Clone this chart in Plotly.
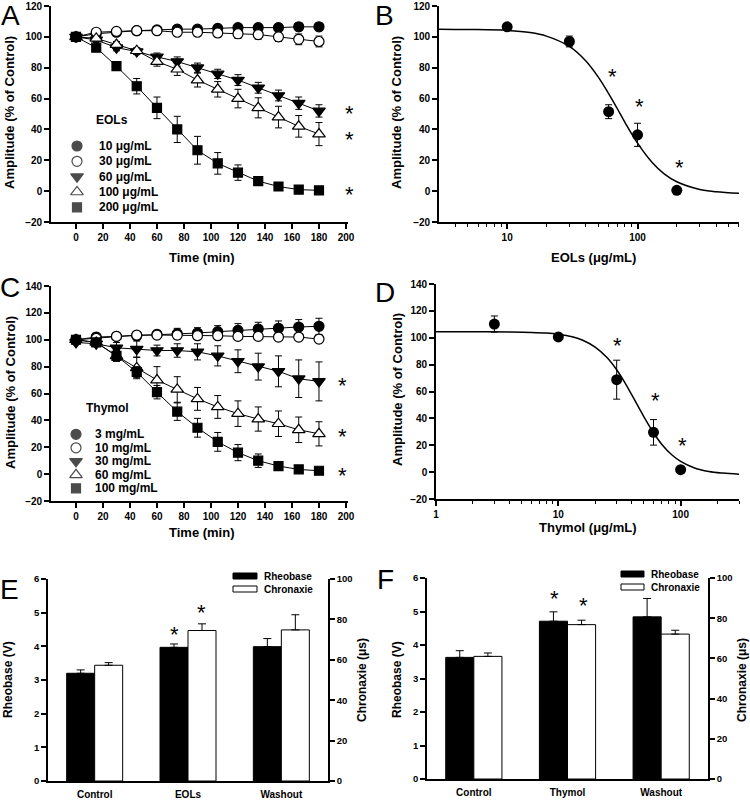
import plotly.graph_objects as go

# ---------------- data ----------------
time_min = [0, 15, 30, 45, 60, 75, 90, 105, 120, 135, 150, 165, 180]

eol_labels = ["10 μg/mL", "30 μg/mL", "60 μg/mL", "100 μg/mL", "200 μg/mL"]
eol_10 = [100, 102, 103, 104, 104.5, 105, 105, 105.5, 106, 106, 106, 106.5, 106.5]
eol_30 = [100, 103, 103.5, 104, 104, 103, 103, 102.5, 102, 101.5, 100, 98.4, 97]
eol_60 = [100, 98, 93, 90.5, 87, 84, 80, 76, 72, 67, 62, 57, 52]
eol_100 = [100, 99, 95, 91, 84, 79, 72, 66, 60, 54, 48, 42, 37]
eol_200 = [100, 93, 81, 68, 54, 40, 26.5, 18, 12, 6.5, 3, 1, 0.5]
eol_10_err = [0, 1, 1, 1, 1.5, 1.5, 1.5, 2, 2, 2, 2.5, 2.5, 2.5]
eol_30_err = [0, 1, 1, 1.5, 1.5, 2, 2, 2.5, 3, 3, 3, 3.5, 3.5]
eol_60_err = [0, 1, 2, 2, 2.5, 3, 3, 3, 3.5, 3.5, 3.5, 4, 4]
eol_100_err = [0, 1, 2, 2, 3, 4, 4.5, 5, 6, 6.5, 7, 7, 7.5]
eol_200_err = [0, 2, 2, 5, 7, 8.5, 9, 7, 5, 2, 1, 1, 1]

thy_labels = ["3 mg/mL", "10 mg/mL", "30 mg/mL", "60 mg/mL", "100 mg/mL"]
thy_3 = [100, 102, 102.5, 103, 104, 104.5, 105, 106, 107, 108, 108.5, 109.5, 110]
thy_10 = [100, 101, 102.5, 103.5, 103.5, 103.5, 103, 103, 102.5, 102.5, 102, 102, 100.5]
thy_30 = [98, 97, 94, 93, 92, 92, 91, 88, 84, 80, 76.5, 71, 69]
thy_60 = [100, 98, 88, 79, 70, 63, 56, 50, 45, 41, 37.5, 33, 30]
thy_100 = [100, 98, 88, 76, 61, 46.5, 34.5, 24, 16, 10, 6, 3.5, 2.5]
thy_3_err = [0, 1, 2, 3, 3, 4, 4, 4.5, 5, 5, 5.5, 5.5, 6]
thy_10_err = [0, 1, 1.5, 2, 2, 2, 2, 2, 2, 2, 2, 2, 2]
thy_30_err = [0, 2, 4, 6, 4, 5, 6, 7.5, 8.5, 10, 11.5, 14, 14.5]
thy_60_err = [0, 2, 4, 8, 10, 9.5, 8.5, 8.5, 9.5, 9, 9.5, 9.5, 9]
thy_100_err = [0, 2, 4, 4, 5, 6.5, 7, 7, 6, 5, 3, 1.5, 1]

eol_conc = [10, 30, 60, 100, 200]
eol_amp = [106.5, 97, 51.5, 36.5, 0.5]
eol_amp_err = [2, 3.5, 4.5, 7.5, 1]
eol_fit_x = [3, 5, 10, 15, 20, 30, 40, 50, 60, 70, 80, 100, 130, 160, 200, 300, 400, 600]
eol_fit_y = [105, 104.8, 104.2, 102.8, 100.5, 93.8, 84.5, 73.9, 63.2, 53.4, 44.6, 31.1,
             18.4, 11.2, 6.1, 1.1, -0.4, -1.4]

thy_conc = [3, 10, 30, 60, 100]
thy_amp = [110.2, 100.6, 68.8, 29.6, 1.8]
thy_amp_err = [6, 2, 14.5, 9.5, 1]
thy_fit_x = [1, 2, 4, 6, 8, 10, 13, 16, 20, 25, 30, 35, 40, 50, 60, 70, 85, 100, 130, 170, 220, 300]
thy_fit_y = [104.5, 104.5, 104.3, 104.0, 103.5, 102.6, 100.7, 98.0, 93.1, 85.3, 76.2, 66.6,
             57.3, 41.3, 29.3, 20.8, 12.7, 8.0, 3.1, 0.5, -0.7, -1.5]

cats_e = ["Control", "EOLs", "Washout"]
rheo_e = [3.2, 3.97, 3.99]
rheo_e_err = [0.1, 0.1, 0.24]
chron_e = [57.3, 74.5, 74.8]
chron_e_err = [1.3, 3.3, 7.5]

cats_f = ["Control", "Thymol", "Washout"]
rheo_f = [3.63, 4.71, 4.84]
rheo_f_err = [0.2, 0.28, 0.55]
chron_f = [61.0, 76.8, 72.1]
chron_f_err = [1.7, 2.2, 1.9]

# ---------------- styles ----------------
W, H = 750, 800
FONT = "Liberation Sans, Arial, sans-serif"
SYMBOLS = ["circle", "circle", "triangle-down", "triangle-up", "square"]
FILLS = ["black", "white", "black", "white", "black"]
SIZES = [10, 10, 11, 11, 9]


def px_x(x):
    return x / W


def px_y(y):
    return 1 - y / H


def dom_x(a, b):
    return [a / W, b / W]


def dom_y(top, bottom):
    return [1 - bottom / H, 1 - top / H]


def ax(**kw):
    d = dict(showline=True, linecolor="black", linewidth=1.6, ticks="outside", ticklen=5,
             tickwidth=1.5, tickcolor="black", showgrid=False, zeroline=False,
             tickfont=dict(family=FONT, size=10, color="black", weight="bold"),
             automargin=False, fixedrange=True)
    d.update(kw)
    return d


fig = go.Figure()


def time_series(series, errs, xa, ya):
    for i, (vals, err) in enumerate(zip(series, errs)):
        fig.add_trace(go.Scatter(
            x=time_min, y=vals, mode="lines+markers", xaxis=xa, yaxis=ya,
            line=dict(color="black", width=1),
            marker=dict(symbol=SYMBOLS[i], size=SIZES[i], color=FILLS[i],
                        line=dict(color="black", width=1.2)),
            error_y=dict(type="data", array=err, color="black", thickness=1, width=3.5),
            cliponaxis=False, showlegend=False))


def legend_keys(labels, xa, ya):
    fig.add_trace(go.Scatter(
        x=[0] * len(labels), y=list(range(len(labels))), mode="markers", xaxis=xa, yaxis=ya,
        marker=dict(symbol=SYMBOLS, size=SIZES, color=FILLS, line=dict(color="black", width=1.2)),
        cliponaxis=False, showlegend=False, hoverinfo="skip"))


# Panel A
time_series([eol_10, eol_30, eol_60, eol_100, eol_200],
            [eol_10_err, eol_30_err, eol_60_err, eol_100_err, eol_200_err], "x", "y")
legend_keys(eol_labels, "x7", "y9")

# Panel B
fig.add_trace(go.Scatter(x=eol_fit_x, y=eol_fit_y, mode="lines", xaxis="x2", yaxis="y2",
                         line=dict(color="black", width=1.5, shape="spline"),
                         showlegend=False, cliponaxis=False))
fig.add_trace(go.Scatter(x=eol_conc, y=eol_amp, mode="markers", xaxis="x2", yaxis="y2",
                         marker=dict(symbol="circle", size=11, color="black"),
                         error_y=dict(type="data", array=eol_amp_err, color="black",
                                      thickness=1, width=3.5),
                         showlegend=False, cliponaxis=False))

# Panel C
time_series([thy_3, thy_10, thy_30, thy_60, thy_100],
            [thy_3_err, thy_10_err, thy_30_err, thy_60_err, thy_100_err], "x3", "y3")
legend_keys(thy_labels, "x8", "y10")

# Panel D
fig.add_trace(go.Scatter(x=thy_fit_x, y=thy_fit_y, mode="lines", xaxis="x4", yaxis="y4",
                         line=dict(color="black", width=1.5, shape="spline"),
                         showlegend=False, cliponaxis=False))
fig.add_trace(go.Scatter(x=thy_conc, y=thy_amp, mode="markers", xaxis="x4", yaxis="y4",
                         marker=dict(symbol="circle", size=11, color="black"),
                         error_y=dict(type="data", array=thy_amp_err, color="black",
                                      thickness=1, width=3.5),
                         showlegend=False, cliponaxis=False))


# Panels E & F
def bars(cats, rheo, rheo_err, chron, chron_err, xa, ya, ya2):
    fig.add_trace(go.Bar(x=cats, y=rheo, xaxis=xa, yaxis=ya, width=0.3, offset=-0.3,
                         marker=dict(color="black", line=dict(color="black", width=1)),
                         error_y=dict(type="data", array=rheo_err, arrayminus=[0] * len(cats),
                                      symmetric=False, color="black", thickness=1, width=4),
                         showlegend=False))
    fig.add_trace(go.Bar(x=cats, y=chron, xaxis=xa, yaxis=ya2, width=0.3, offset=0,
                         marker=dict(color="white", line=dict(color="black", width=1)),
                         error_y=dict(type="data", array=chron_err, arrayminus=[0] * len(cats),
                                      symmetric=False, color="black", thickness=1, width=4),
                         showlegend=False))


bars(cats_e, rheo_e, rheo_e_err, chron_e, chron_e_err, "x5", "y5", "y6")
bars(cats_f, rheo_f, rheo_f_err, chron_f, chron_f_err, "x6", "y7", "y8")

log_minor_b = [4, 5, 6, 7, 8, 9, 20, 30, 40, 50, 60, 70, 80, 90, 200, 300, 400, 500, 600]
log_minor_d = [2, 3, 4, 5, 6, 7, 8, 9, 20, 30, 40, 50, 60, 70, 80, 90, 200, 300]
minor_style = dict(ticks="outside", ticklen=3, tickwidth=1, tickcolor="black", showgrid=False)
bar_xfont = dict(family=FONT, size=10, color="black", weight="bold")
bar_yfont = dict(family=FONT, size=9.5, color="black", weight="bold")

layout_axes = dict(
    # A
    xaxis=ax(domain=dom_x(51, 348), range=[-18.5, 201.5], tick0=0, dtick=20, anchor="y"),
    yaxis=ax(domain=dom_y(6, 222), range=[-20, 120], dtick=20, anchor="x"),
    # B
    xaxis2=ax(domain=dom_x(439, 739), type="log", range=[0.4771, 2.7782],
              tickvals=[10, 100], ticktext=["10", "100"], anchor="y2",
              minor=dict(tickmode="array", tickvals=log_minor_b, **minor_style)),
    yaxis2=ax(domain=dom_y(6, 222), range=[-20, 120], dtick=20, anchor="x2"),
    # C
    xaxis3=ax(domain=dom_x(51, 348), range=[-18.5, 201.5], tick0=0, dtick=20, anchor="y3"),
    yaxis3=ax(domain=dom_y(286, 501), range=[-20, 140], dtick=20, anchor="x3"),
    # D
    xaxis4=ax(domain=dom_x(436, 739), type="log", range=[0, 2.4771],
              tickvals=[1, 10, 100], ticktext=["1", "10", "100"], anchor="y4",
              minor=dict(tickmode="array", tickvals=log_minor_d, **minor_style)),
    yaxis4=ax(domain=dom_y(284, 499), range=[-20, 140], dtick=20, anchor="x4"),
    # E
    xaxis5=ax(domain=dom_x(48, 328), range=[-0.5, 2.5], ticks="", anchor="y5",
              tickfont=bar_xfont, ticklabelstandoff=3),
    yaxis5=ax(domain=dom_y(579, 781), range=[0, 6], dtick=1, anchor="x5", tickfont=bar_yfont),
    yaxis6=ax(domain=dom_y(579, 781), range=[0, 100], dtick=20, anchor="x5", overlaying="y5",
              side="right", tickfont=bar_yfont),
    # F
    xaxis6=ax(domain=dom_x(427, 708), range=[-0.5, 2.5], ticks="", anchor="y7",
              tickfont=bar_xfont, ticklabelstandoff=3),
    yaxis7=ax(domain=dom_y(578, 779), range=[0, 6], dtick=1, anchor="x6", tickfont=bar_yfont),
    yaxis8=ax(domain=dom_y(578, 779), range=[0, 100], dtick=20, anchor="x6", overlaying="y7",
              side="right", tickfont=bar_yfont),
    # hidden axes holding legend keys
    xaxis7=dict(domain=dom_x(70, 84), range=[-1, 1], visible=False, anchor="y9", fixedrange=True),
    yaxis9=dict(domain=dom_y(146, 207.3), range=[4, 0], visible=False, anchor="x7", fixedrange=True),
    xaxis8=dict(domain=dom_x(69, 83), range=[-1, 1], visible=False, anchor="y10", fixedrange=True),
    yaxis10=dict(domain=dom_y(434.3, 488.3), range=[4, 0], visible=False, anchor="x8", fixedrange=True),
)

ann = []


def text(x, y, s, size=13, bold=True, angle=0, xanchor="center", yanchor="middle", yshift=0):
    ann.append(dict(x=px_x(x), y=px_y(y), xref="paper", yref="paper", text=s, showarrow=False,
                    textangle=angle, xanchor=xanchor, yanchor=yanchor, yshift=yshift,
                    font=dict(family=FONT, size=size, color="black",
                              weight="bold" if bold else "normal")))


# panel letters
for letter, (lx, ly) in zip("ABCDEF", [(10, 15), (384, 15), (10, 287), (385, 292), (9, 589), (385, 579)]):
    text(lx, ly, letter, size=28, bold=False)

# axis titles
text(10, 113, "Amplitude (% of Control)", angle=-90)
text(397, 113, "Amplitude (% of Control)", angle=-90)
text(10, 393, "Amplitude (% of Control)", angle=-90)
text(397, 390, "Amplitude (% of Control)", angle=-90)
text(202, 257, "Time (min)")
text(593, 257, "EOLs (μg/mL)")
text(202, 532, "Time (min)")
text(588, 527, "Thymol (μg/mL)")
text(8, 680, "Rheobase (V)", size=12, angle=-90)
text(362, 680, "Chronaxie (μs)", size=12, angle=-90)
text(397, 680, "Rheobase (V)", size=12, angle=-90)
text(742, 680, "Chronaxie (μs)", size=12, angle=-90)

# group labels and legend texts
text(112, 120, "EOLs", size=12)
text(108, 408, "Thymol", size=12)
for lab, ry in zip(eol_labels, [146, 161.3, 176.7, 192, 207.3]):
    text(97, ry, lab, size=12, xanchor="left")
for lab, ry in zip(thy_labels, [434.3, 448, 461.3, 474.7, 488.3]):
    text(92.7, ry, lab, size=12, xanchor="left")

text(262, 576, "Rheobase", size=10, xanchor="left")
text(262, 589, "Chronaxie", size=10, xanchor="left")
text(649, 574, "Rheobase", size=10, xanchor="left")
text(649, 587, "Chronaxie", size=10, xanchor="left")

# significance asterisks
stars = [(349, 111), (349, 137), (349, 193),
         (612, 74), (639, 105), (679, 165),
         (342, 383), (342, 435), (342, 473),
         (617, 343), (655, 398), (682, 443),
         (174, 632), (202, 610),
         (554, 596), (583, 603)]
for sx, sy in stars:
    text(sx, sy, "*", size=22, bold=False, yshift=-2)

shapes = []


def key_rect(x0, x1, y0, y1, fill):
    shapes.append(dict(type="rect", xref="paper", yref="paper",
                       x0=px_x(x0), x1=px_x(x1), y0=px_y(y1), y1=px_y(y0),
                       fillcolor=fill, line=dict(color="black", width=1)))


key_rect(233, 257, 573, 579, "black")
key_rect(233, 257, 586, 592, "white")
key_rect(621, 644, 571, 577, "black")
key_rect(621, 644, 584, 590, "white")

fig.update_layout(
    width=W, height=H, margin=dict(l=0, r=0, t=0, b=0),
    template="none", paper_bgcolor="white", plot_bgcolor="white",
    showlegend=False, barmode="group",
    font=dict(family=FONT, color="black"),
    annotations=ann, shapes=shapes,
    **layout_axes,
)

fig.write_html("out.html", config={"displayModeBar": False},
               post_script="document.body.style.margin='0px';document.body.style.overflow='hidden';")
